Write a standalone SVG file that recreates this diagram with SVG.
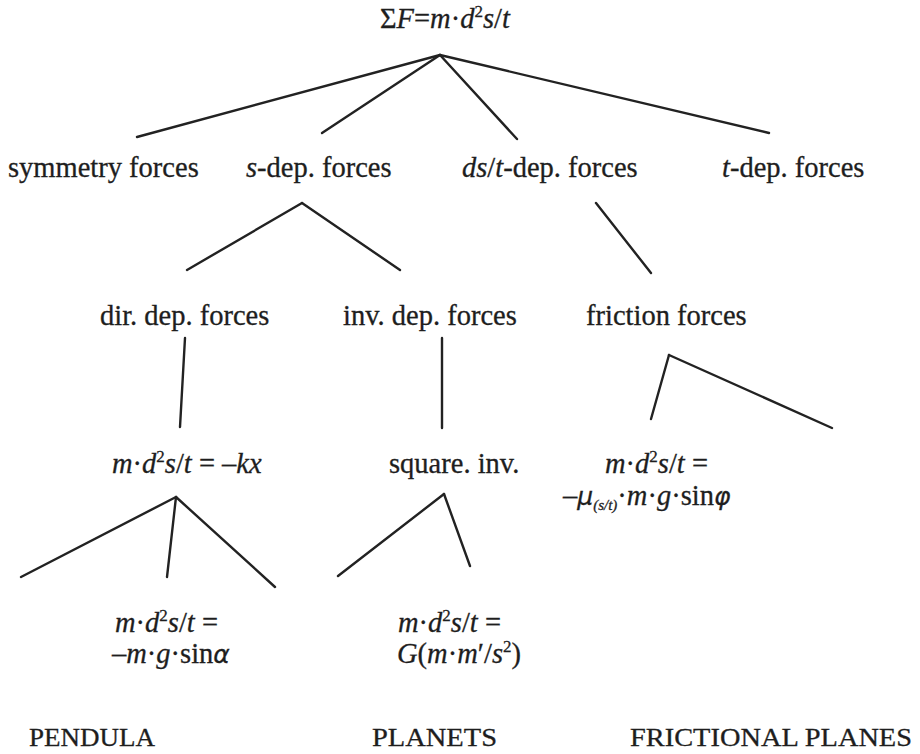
<svg xmlns="http://www.w3.org/2000/svg" width="920" height="754" viewBox="0 0 920 754">
<style>
text{font-family:"Liberation Serif","DejaVu Serif",serif;font-size:28.5px;fill:#1e1e1e;stroke:#1e1e1e;stroke-width:0.3}
.i{font-style:italic}
.g{font-family:"DejaVu Sans","Noto Sans",sans-serif;font-style:italic;font-size:25px}
.sup{font-size:17px}
.sub{font-size:15px;font-style:italic}
.cap{font-size:26px}
#connectors line{stroke:#222;stroke-width:2.4;stroke-linecap:round}
</style>
<rect width="920" height="754" fill="#fff"/>
<g id="connectors">
<line x1="440" y1="55" x2="137" y2="137"/>
<line x1="440" y1="55" x2="322" y2="133"/>
<line x1="440" y1="55" x2="517" y2="139"/>
<line x1="440" y1="55" x2="769" y2="133"/>
<line x1="302" y1="203" x2="187" y2="270"/>
<line x1="302" y1="203" x2="400" y2="270"/>
<line x1="596" y1="203" x2="651" y2="273"/>
<line x1="185" y1="338" x2="180" y2="427"/>
<line x1="442" y1="338" x2="442" y2="428"/>
<line x1="669" y1="355" x2="651" y2="419"/>
<line x1="669" y1="355" x2="832" y2="428"/>
<line x1="176" y1="497" x2="21" y2="577"/>
<line x1="176" y1="497" x2="167" y2="577"/>
<line x1="176" y1="497" x2="275" y2="587"/>
<line x1="444" y1="494" x2="338" y2="576"/>
<line x1="444" y1="494" x2="470" y2="566"/>
</g>
<g id="root"><text x="380" y="28">Σ<tspan class="i">F</tspan>=<tspan class="i">m</tspan>·<tspan class="i">d</tspan><tspan class="sup" dy="-11">2</tspan><tspan class="i" dy="11">s</tspan>/<tspan class="i">t</tspan></text></g>
<g id="symmetry"><text x="8" y="177">symmetry forces</text></g>
<g id="sdep"><text x="246" y="177"><tspan class="i">s</tspan>-dep. forces</text></g>
<g id="dsdep"><text x="462" y="177"><tspan class="i">ds</tspan>/<tspan class="i">t</tspan>-dep. forces</text></g>
<g id="tdep"><text x="722" y="177"><tspan class="i">t</tspan>-dep. forces</text></g>
<g id="dirdep"><text x="100" y="325">dir. dep. forces</text></g>
<g id="invdep"><text x="343" y="325">inv. dep. forces</text></g>
<g id="friction"><text x="586" y="325">friction forces</text></g>
<g id="kx"><text x="112" y="473"><tspan class="i">m</tspan>·<tspan class="i">d</tspan><tspan class="sup" dy="-11">2</tspan><tspan class="i" dy="11">s</tspan>/<tspan class="i">t</tspan> = –<tspan class="i">kx</tspan></text></g>
<g id="squareinv"><text x="389" y="473">square. inv.</text></g>
<g id="frictioneq"><text x="605" y="473"><tspan class="i">m</tspan>·<tspan class="i">d</tspan><tspan class="sup" dy="-11">2</tspan><tspan class="i" dy="11">s</tspan>/<tspan class="i">t</tspan> =</text>
<text x="563" y="505">–<tspan class="g">μ</tspan><tspan class="sub" dy="5">(s/t)</tspan><tspan dy="-5">·</tspan><tspan class="i">m</tspan>·<tspan class="i">g</tspan>·sin<tspan class="g">φ</tspan></text></g>
<g id="pendeq"><text x="115" y="632"><tspan class="i">m</tspan>·<tspan class="i">d</tspan><tspan class="sup" dy="-11">2</tspan><tspan class="i" dy="11">s</tspan>/<tspan class="i">t</tspan> =</text>
<text x="112" y="663">–<tspan class="i">m</tspan>·<tspan class="i">g</tspan>·sin<tspan class="g">α</tspan></text></g>
<g id="planeteq"><text x="398" y="632"><tspan class="i">m</tspan>·<tspan class="i">d</tspan><tspan class="sup" dy="-11">2</tspan><tspan class="i" dy="11">s</tspan>/<tspan class="i">t</tspan> =</text>
<text x="397" y="663"><tspan class="i">G</tspan>(<tspan class="i">m</tspan>·<tspan class="i">m</tspan>′/<tspan class="i">s</tspan><tspan class="sup" dy="-11">2</tspan><tspan dy="11">)</tspan></text></g>
<g id="pendula"><text class="cap" x="29" y="746" textLength="126" lengthAdjust="spacingAndGlyphs">PENDULA</text></g>
<g id="planets"><text class="cap" x="372" y="746" textLength="125" lengthAdjust="spacingAndGlyphs">PLANETS</text></g>
<g id="frplanes"><text class="cap" x="630" y="746" textLength="282" lengthAdjust="spacingAndGlyphs">FRICTIONAL PLANES</text></g>
</svg>
